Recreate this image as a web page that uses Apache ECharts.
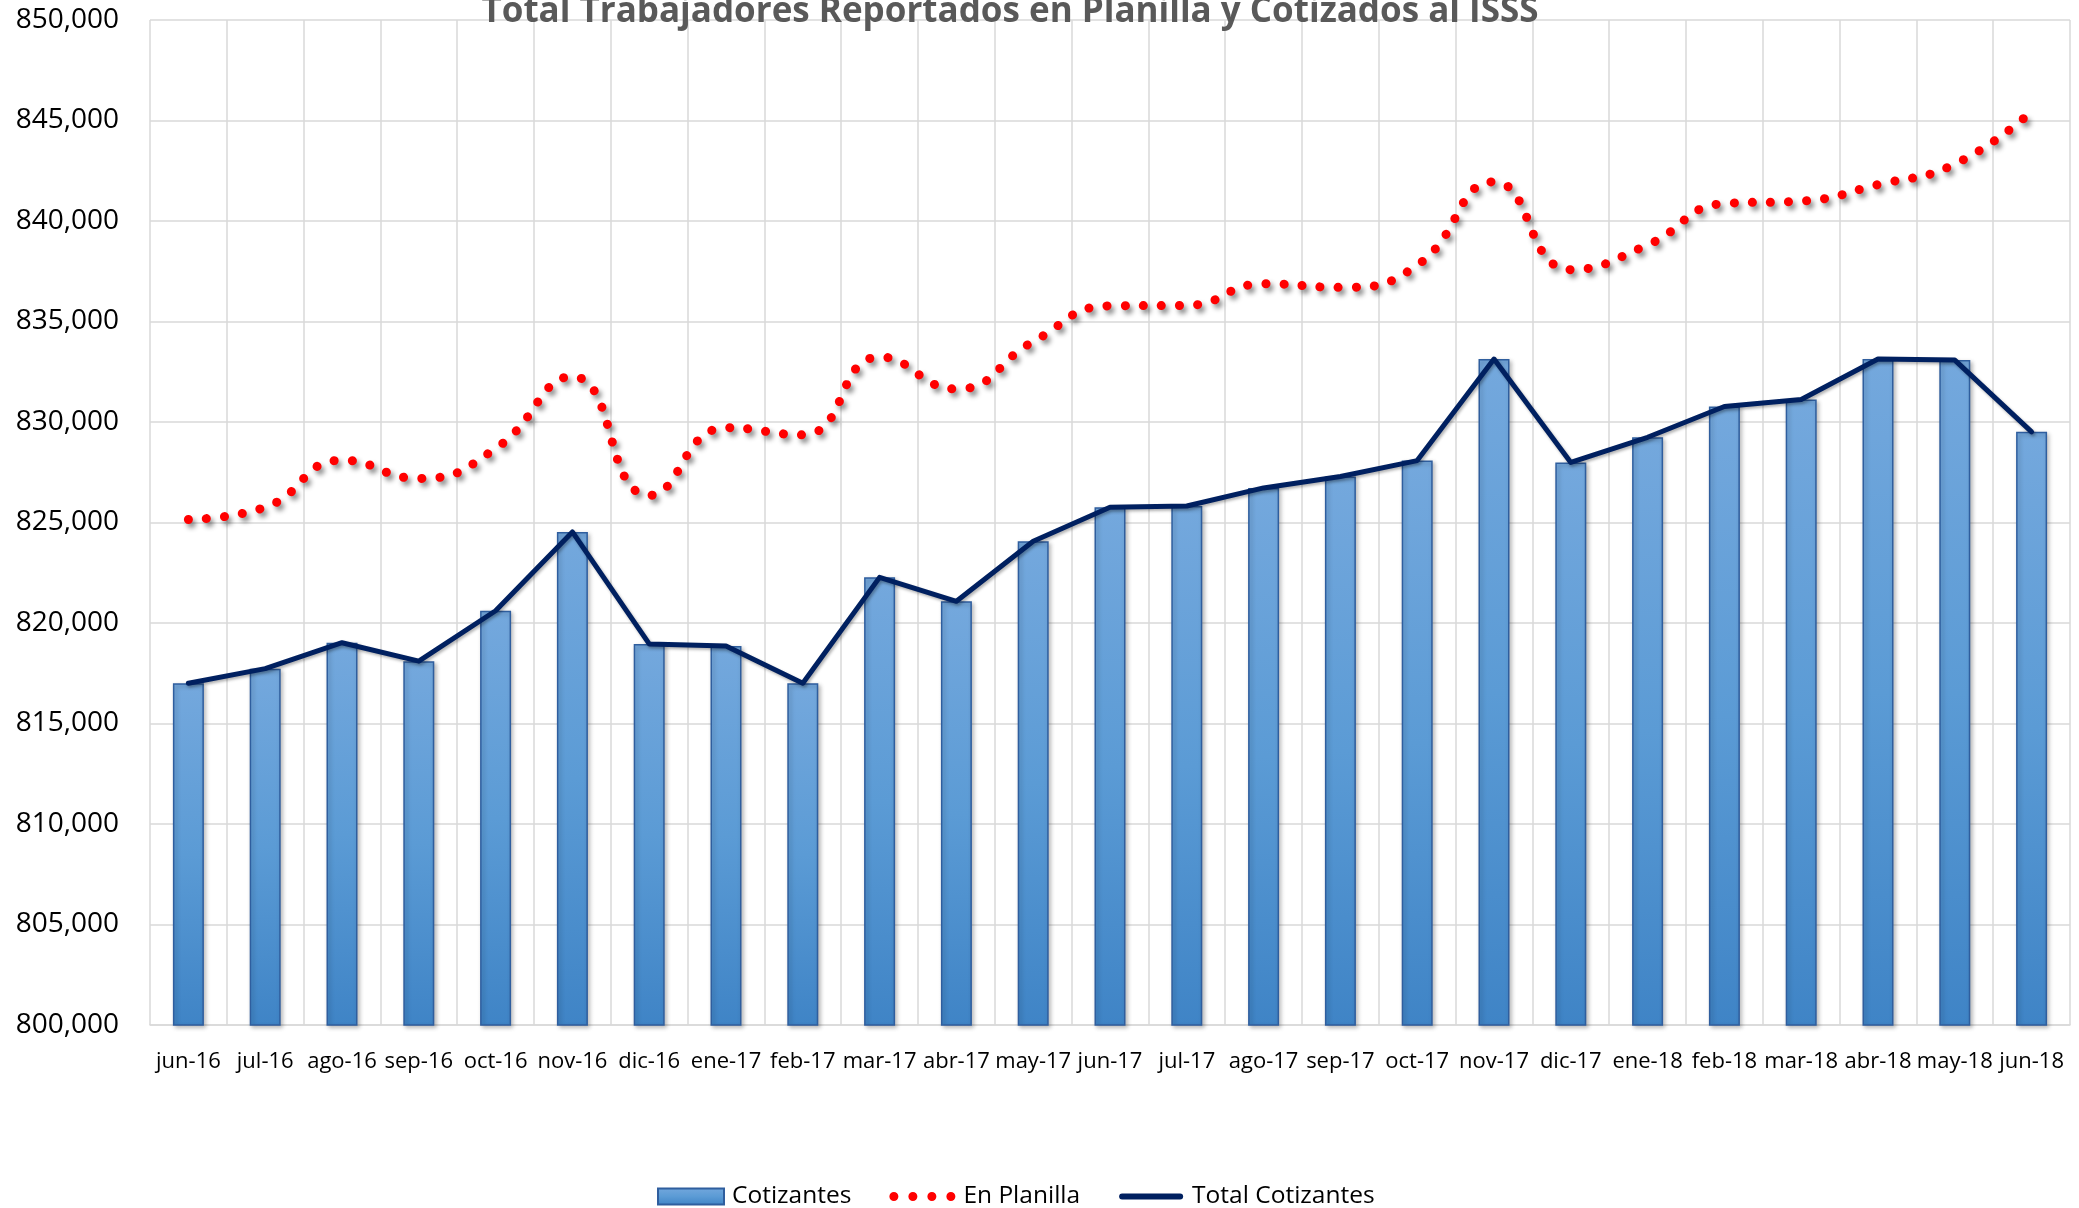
<!DOCTYPE html>
<html>
<head>
<meta charset="utf-8">
<style>
  html, body { margin: 0; padding: 0; background: #ffffff; }
  #chart { width: 2079px; height: 1208px; }
</style>
<script src="https://cdn.jsdelivr.net/npm/echarts@6/dist/echarts.min.js"></script>
</head>
<body>
<div id="chart"></div>
<script>
const titleText = 'Total Trabajadores Reportados en Planilla y Cotizados al ISSS';

const categories = ['jun-16','jul-16','ago-16','sep-16','oct-16','nov-16','dic-16','ene-17','feb-17','mar-17','abr-17','may-17','jun-17','jul-17','ago-17','sep-17','oct-17','nov-17','dic-17','ene-18','feb-18','mar-18','abr-18','may-18','jun-18'];

const cotizantes = [817000, 817730, 819020, 818100, 820610, 824530, 818960, 818850, 817000, 822270, 821080, 824070, 825760, 825820, 826720, 827290, 828080, 833130, 827990, 829240, 830770, 831120, 833130, 833080, 829510];

const enPlanilla = [825150, 825760, 828100, 827190, 828680, 832260, 826350, 829720, 829360, 833240, 831640, 834000, 835780, 835800, 836880, 836700, 837800, 841950, 837580, 838810, 840870, 840990, 841810, 842830, 845450];

const totalCotizantes = [817000, 817730, 819020, 818100, 820610, 824530, 818960, 818850, 817000, 822270, 821080, 824070, 825760, 825820, 826720, 827290, 828080, 833130, 827990, 829240, 830770, 831120, 833130, 833080, 829510];

const yMin = 800000, yMax = 850000, yStep = 5000;

const FONT = "'Open Sans', 'Liberation Sans', sans-serif";

function fmt(v) {
  return String(Math.round(v)).replace(/\B(?=(\d{3})+(?!\d))/g, ',');
}

const barGradient = new echarts.graphic.LinearGradient(0, 0, 0, 1, [
  { offset: 0, color: '#74a8dd' },
  { offset: 0.5, color: '#5b9bd5' },
  { offset: 1, color: '#3f84c6' }
]);

const chart = echarts.init(document.getElementById('chart'), null, { renderer: 'canvas' });

chart.setOption({
  animation: false,
  backgroundColor: '#ffffff',
  title: {
    text: titleText,
    left: 1010,
    textAlign: 'center',
    top: -5,
    padding: 0,
    textStyle: { fontFamily: FONT, fontSize: 35, fontWeight: 'bold', color: '#595959' }
  },
  legend: {
    left: 652,
    top: 1179,
    itemWidth: 66,
    itemHeight: 16,
    itemGap: 38,
    textStyle: { fontFamily: FONT, fontSize: 24.5, color: '#000000', padding: [0, 0, 0, 3] },
    data: [
      { name: 'Cotizantes', icon: 'rect' },
      { name: 'En Planilla',
        icon: 'path://M0,0M66,16M0,8a4.5,4.5 0 1,0 9,0a4.5,4.5 0 1,0 -9,0zM19,8a4.5,4.5 0 1,0 9,0a4.5,4.5 0 1,0 -9,0zM38,8a4.5,4.5 0 1,0 9,0a4.5,4.5 0 1,0 -9,0zM57,8a4.5,4.5 0 1,0 9,0a4.5,4.5 0 1,0 -9,0z',
        itemStyle: { color: '#ff0000', borderWidth: 0, shadowBlur: 0 } },
      { name: 'Total Cotizantes',
        icon: 'path://M0,0M66,16M4,5h58a3,3 0 0,1 0,6h-58a3,3 0 0,1 0,-6z',
        itemStyle: { color: '#002060', borderWidth: 0, shadowBlur: 0 } }
    ]
  },
  grid: { left: 150, right: 9, top: 20, bottom: 183, containLabel: false },
  xAxis: {
    type: 'category',
    data: categories,
    boundaryGap: true,
    axisLine: { show: true, lineStyle: { color: '#d9d9d9', width: 1.5 } },
    axisTick: { show: false },
    splitLine: { show: true, interval: 0, lineStyle: { color: '#d9d9d9', width: 1.5 } },
    axisLabel: { interval: 0, margin: 26, fontFamily: FONT, fontSize: 22, color: '#000000' }
  },
  yAxis: {
    type: 'value',
    min: yMin,
    max: yMax,
    interval: yStep,
    axisLine: { show: false },
    axisTick: { show: false },
    splitLine: { show: true, lineStyle: { color: '#d9d9d9', width: 1.5 } },
    axisLabel: { margin: 31, fontFamily: FONT, fontSize: 28, color: '#000000', formatter: fmt }
  },
  series: [
    {
      name: 'Cotizantes',
      type: 'bar',
      data: cotizantes,
      barWidth: 31,
      itemStyle: {
        color: barGradient,
        borderColor: '#2f5e9e',
        borderWidth: 1.5,
        shadowColor: 'rgba(0,0,0,0.25)',
        shadowBlur: 4,
        shadowOffsetX: 2,
        shadowOffsetY: 2
      },
      z: 2
    },
    {
      name: 'En Planilla',
      type: 'line',
      data: enPlanilla,
      smooth: 0.5,
      symbol: 'none',
      showSymbol: false,
      color: '#ff0000',
      lineStyle: {
        color: '#ff0000',
        width: 9,
        type: [0.1, 18],
        cap: 'round',
        join: 'round',
        shadowColor: 'rgba(0,0,0,0.45)',
        shadowBlur: 5,
        shadowOffsetX: 3,
        shadowOffsetY: 4
      },
      z: 4
    },
    {
      name: 'Total Cotizantes',
      type: 'line',
      data: totalCotizantes,
      smooth: false,
      symbol: 'none',
      showSymbol: false,
      color: '#002060',
      lineStyle: {
        color: '#002060',
        width: 5,
        cap: 'round',
        join: 'round',
        shadowColor: 'rgba(0,0,0,0.3)',
        shadowBlur: 3,
        shadowOffsetX: 1.5,
        shadowOffsetY: 2
      },
      z: 3
    }
  ]
});
</script>
</body>
</html>
